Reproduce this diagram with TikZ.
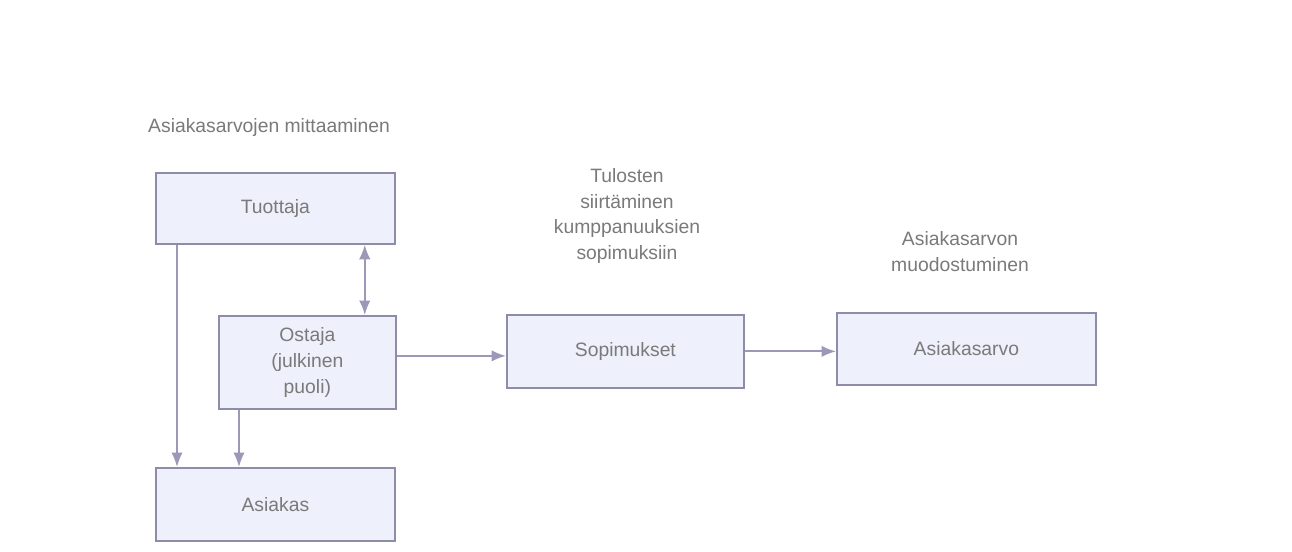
\documentclass[tikz,border=0pt]{standalone}
\usepackage{fontspec}
\setmainfont{Liberation Sans}
\usepackage{xcolor}
\definecolor{BoxFill}{HTML}{EEF0FB}
\definecolor{BoxLine}{HTML}{8E8CA8}
\definecolor{ArrLine}{HTML}{9C99B8}
\definecolor{TxtGray}{HTML}{7A7A7A}
\usetikzlibrary{calc,arrows.meta}
\tikzset{
  bx/.style={draw=BoxLine,fill=BoxFill,line width=1pt,anchor=north west,
    inner sep=0pt,align=center,font=\fontsize{11}{14.7}\selectfont,text=TxtGray},
  flow/.style={-{Latex[length=2.9mm,width=2.3mm]},draw=ArrLine,line width=1.1pt},
  lbl/.style={font=\fontsize{11}{14.7}\selectfont,text=TxtGray,align=center},
}

\begin{document}
\begin{tikzpicture}[x=1cm,y=1cm]
\useasboundingbox[fill=white] (0,0) rectangle (25.84,-11.02);

\node[lbl,anchor=west] (l1) at (2.84,-2.54) {Asiakasarvojen mittaaminen};
\node[lbl] (l2) at (12.54,-4.32) {Tulosten\\siirtäminen\\kumppanuuksien\\sopimuksiin};
\node[lbl] (l3) at (19.20,-5.03) {Asiakasarvon\\muodostuminen};

\node[bx,minimum width=4.78cm,minimum height=1.42cm] (tu) at (3.10,-3.44) {Tuottaja};
\node[bx,minimum width=3.54cm,minimum height=1.86cm] (os) at (4.36,-6.30)
  {Ostaja\\(julkinen\\puoli)};
\node[bx,minimum width=4.78cm,minimum height=1.46cm] (as) at (3.10,-9.34) {Asiakas};
\node[bx,minimum width=4.74cm,minimum height=1.46cm] (sp) at (10.12,-6.28) {Sopimukset};
\node[bx,minimum width=5.18cm,minimum height=1.44cm] (aa) at (16.72,-6.24) {Asiakasarvo};

\draw[flow] ([xshift=0.44cm]tu.south west) -- ([xshift=0.44cm]as.north west);
\draw[flow] ([xshift=0.42cm]os.south west) -- ([xshift=0.42cm]os.south west |- as.north);
\draw[flow,{Latex[length=2.9mm,width=2.3mm]}-{Latex[length=2.9mm,width=2.3mm]}]
  ([xshift=-0.64cm]os.north east) -- ([xshift=-0.64cm]os.north east |- tu.south);
\draw[flow] ([yshift=0.13cm]os.east) -- ([yshift=0.13cm]os.east -| sp.west);
\draw[flow] (sp.east) -- (sp.east -| aa.west);
\end{tikzpicture}
\end{document}
